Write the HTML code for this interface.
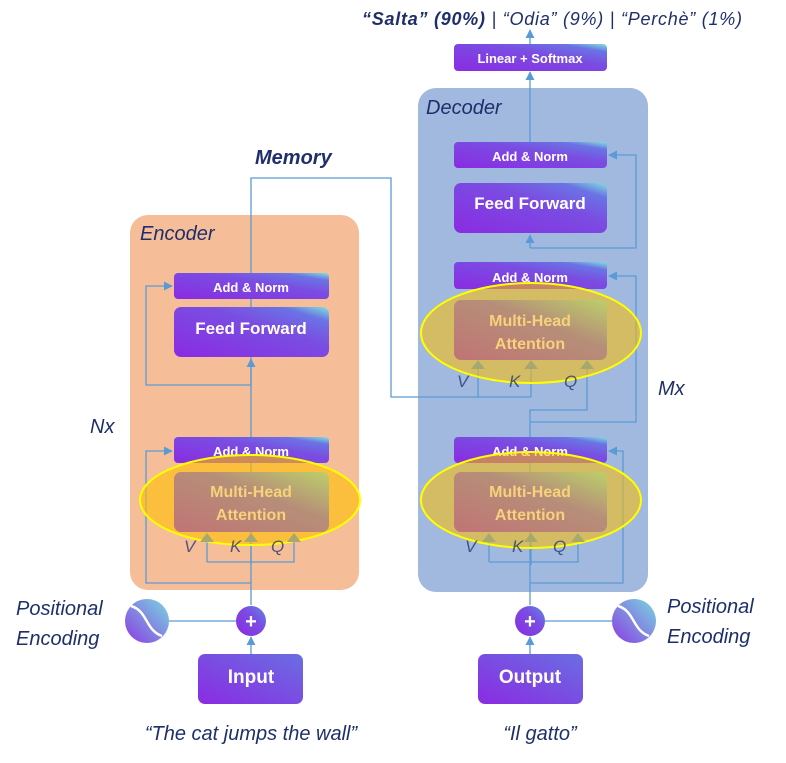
<!DOCTYPE html>
<html><head><meta charset="utf-8"><style>
html,body{margin:0;padding:0;background:#fff;width:786px;height:763px;overflow:hidden}
svg text{font-family:"Liberation Sans",sans-serif}
</style></head><body>
<svg width="786" height="763" viewBox="0 0 786 763" xmlns="http://www.w3.org/2000/svg">
<defs>
<linearGradient id="pg" x1="0" y1="1" x2="1" y2="0">
<stop offset="0" stop-color="#8a2be2"/><stop offset="0.6" stop-color="#7a4de2"/><stop offset="0.85" stop-color="#6a74e4"/><stop offset="1" stop-color="#80e4dc"/>
</linearGradient>
<linearGradient id="pg2" x1="0" y1="1" x2="1" y2="0">
<stop offset="0" stop-color="#8a2be2"/><stop offset="1" stop-color="#6a6ee2"/>
</linearGradient>
<linearGradient id="mg" x1="0" y1="1" x2="1" y2="0">
<stop offset="0" stop-color="#c07475"/><stop offset="0.6" stop-color="#b68f78"/><stop offset="1" stop-color="#bcd06a"/>
</linearGradient>
<linearGradient id="sg" x1="0" y1="1" x2="1" y2="0">
<stop offset="0" stop-color="#8a3be2"/><stop offset="1" stop-color="#78d8e0"/>
</linearGradient>
<marker id="ar" viewBox="0 0 10 10" refX="9" refY="5" markerWidth="7" markerHeight="7" orient="auto"><path d="M0,0L10,5L0,10z" fill="#5b9bd5"/></marker>
</defs>
<rect x="130" y="215" width="229" height="375" rx="18" fill="#f5be98"/>
<rect x="418" y="88" width="230" height="504" rx="18" fill="#a1b8df"/>
<g font-style="italic" fill="#1f2f6b" font-size="20">
<text x="140" y="240">Encoder</text>
<text x="426" y="114">Decoder</text>
<text x="90" y="433">Nx</text>
<text x="658" y="395">Mx</text>
<text x="255" y="164" font-weight="bold" font-size="20">Memory</text>
<text x="16" y="615">Positional</text>
<text x="16" y="645">Encoding</text>
<text x="667" y="613">Positional</text>
<text x="667" y="643">Encoding</text>
<text x="251" y="740" text-anchor="middle">“The cat jumps the wall”</text>
<text x="540" y="740" text-anchor="middle">“Il gatto”</text>
<text x="362" y="25" font-size="18" textLength="380" lengthAdjust="spacing"><tspan font-weight="bold">“Salta” (90%)</tspan> | “Odia” (9%) | “Perchè” (1%)</text>
</g>
<g stroke="#5b9bd5" stroke-width="1.3" fill="none">
<path d="M251,605V178H391V397H531"/>
<path d="M251,385H146V286H172" marker-end="url(#ar)"/>
<path d="M251,385V359" marker-end="url(#ar)"/>
<path d="M251,583H146V451H172" marker-end="url(#ar)"/>
<path d="M207,562H294V534" marker-end="url(#ar)"/>
<path d="M207,562V534" marker-end="url(#ar)"/>
<path d="M251,565V534" marker-end="url(#ar)"/>
<path d="M251,654V637" marker-end="url(#ar)"/>
<path d="M169,621H236"/>
<path d="M530,605V410H587V361" marker-end="url(#ar)"/>
<path d="M478,397V361" marker-end="url(#ar)"/>
<path d="M531,397V361" marker-end="url(#ar)"/>
<path d="M530,422H636V276H609" marker-end="url(#ar)"/>
<path d="M530,248H636V155H609" marker-end="url(#ar)"/>
<path d="M530,248V235" marker-end="url(#ar)"/>
<path d="M530,142V72" marker-end="url(#ar)"/>
<path d="M530,44V30" marker-end="url(#ar)"/>
<path d="M530,583H623V451H609" marker-end="url(#ar)"/>
<path d="M489,562H578V534" marker-end="url(#ar)"/>
<path d="M489,562V534" marker-end="url(#ar)"/>
<path d="M531,565V534" marker-end="url(#ar)"/>
<path d="M530,654V637" marker-end="url(#ar)"/>
<path d="M545,621H612"/>
</g>
<g font-weight="bold" fill="#fff" text-anchor="middle">
<rect x="174" y="273" width="155" height="26" rx="4" fill="url(#pg)"/><text x="251" y="292" font-size="13" fill="#fff">Add &amp; Norm</text>
<rect x="174" y="307" width="155" height="50" rx="7" fill="url(#pg)"/><text x="251" y="334" font-size="17" fill="#fff">Feed Forward</text>
<rect x="174" y="437" width="155" height="26" rx="4" fill="url(#pg)"/><text x="251" y="456" font-size="13" fill="#fff">Add &amp; Norm</text>
<rect x="454" y="44" width="153" height="27" rx="4" fill="url(#pg)"/><text x="530" y="63" font-size="13" fill="#fff">Linear + Softmax</text>
<rect x="454" y="142" width="153" height="26" rx="4" fill="url(#pg)"/><text x="530" y="161" font-size="13" fill="#fff">Add &amp; Norm</text>
<rect x="454" y="183" width="153" height="50" rx="7" fill="url(#pg)"/><text x="530" y="209" font-size="17" fill="#fff">Feed Forward</text>
<rect x="454" y="262" width="153" height="27" rx="4" fill="url(#pg)"/><text x="530" y="282" font-size="13" fill="#fff">Add &amp; Norm</text>
<rect x="454" y="437" width="153" height="26" rx="4" fill="url(#pg)"/><text x="530" y="456" font-size="13" fill="#fff">Add &amp; Norm</text>
<rect x="198" y="654" width="105" height="50" rx="7" fill="url(#pg2)"/><text x="251" y="683" font-size="19" fill="#fff">Input</text>
<rect x="478" y="654" width="105" height="50" rx="7" fill="url(#pg2)"/><text x="530" y="683" font-size="19" fill="#fff">Output</text>
</g>
<ellipse cx="250" cy="500" rx="110" ry="45" fill="#ffc000" opacity="0.6"/>
<ellipse cx="531" cy="333" rx="110" ry="50" fill="#ffc000" opacity="0.55"/>
<ellipse cx="531" cy="500" rx="110" ry="48" fill="#ffc000" opacity="0.55"/>
<g font-weight="bold" text-anchor="middle" font-size="16" fill="#f7d27a">
<rect x="174" y="472" width="155" height="60" rx="7" fill="url(#mg)"/><text x="251" y="497" fill="#f7d27a">Multi-Head</text><text x="251" y="520" fill="#f7d27a">Attention</text>
<rect x="454" y="300" width="153" height="60" rx="7" fill="url(#mg)"/><text x="530" y="326" fill="#f7d27a">Multi-Head</text><text x="530" y="349" fill="#f7d27a">Attention</text>
<rect x="454" y="472" width="153" height="60" rx="7" fill="url(#mg)"/><text x="530" y="497" fill="#f7d27a">Multi-Head</text><text x="530" y="520" fill="#f7d27a">Attention</text>
</g>
<g fill="none" stroke="#ffff00" stroke-width="2">
<ellipse cx="250" cy="500" rx="110" ry="45"/>
<ellipse cx="531" cy="333" rx="110" ry="50"/>
<ellipse cx="531" cy="500" rx="110" ry="48"/>
</g>
<g font-style="italic" font-size="17" fill="#1f2f6b" opacity="0.75">
<text x="184" y="552">V</text><text x="230" y="552">K</text><text x="271" y="552">Q</text>
<text x="457" y="387">V</text><text x="509" y="387">K</text><text x="564" y="387">Q</text>
<text x="465" y="552">V</text><text x="512" y="552">K</text><text x="553" y="552">Q</text>
</g>
<g fill="#a7a870">
<path d="M200,542l7,-9l7,9z"/><path d="M244,542l7,-9l7,9z"/><path d="M287,542l7,-9l7,9z"/>
<path d="M471,369l7,-9l7,9z"/><path d="M524,369l7,-9l7,9z"/><path d="M580,369l7,-9l7,9z"/>
<path d="M482,542l7,-9l7,9z"/><path d="M524,542l7,-9l7,9z"/><path d="M571,542l7,-9l7,9z"/>
</g>
<circle cx="251" cy="621" r="15" fill="url(#pg)"/><text x="251" y="628" text-anchor="middle" font-size="20" font-weight="bold" fill="#fff">+</text>
<circle cx="530" cy="621" r="15" fill="url(#pg)"/><text x="530" y="628" text-anchor="middle" font-size="20" font-weight="bold" fill="#fff">+</text>
<circle cx="147" cy="621" r="22" fill="url(#sg)"/><path d="M131,606C148,611 145,630 162,636" stroke="#fff" stroke-width="2.5" fill="none"/>
<circle cx="634" cy="621" r="22" fill="url(#sg)"/><path d="M618,606C635,611 632,630 649,636" stroke="#fff" stroke-width="2.5" fill="none"/>
</svg>
</body></html>
